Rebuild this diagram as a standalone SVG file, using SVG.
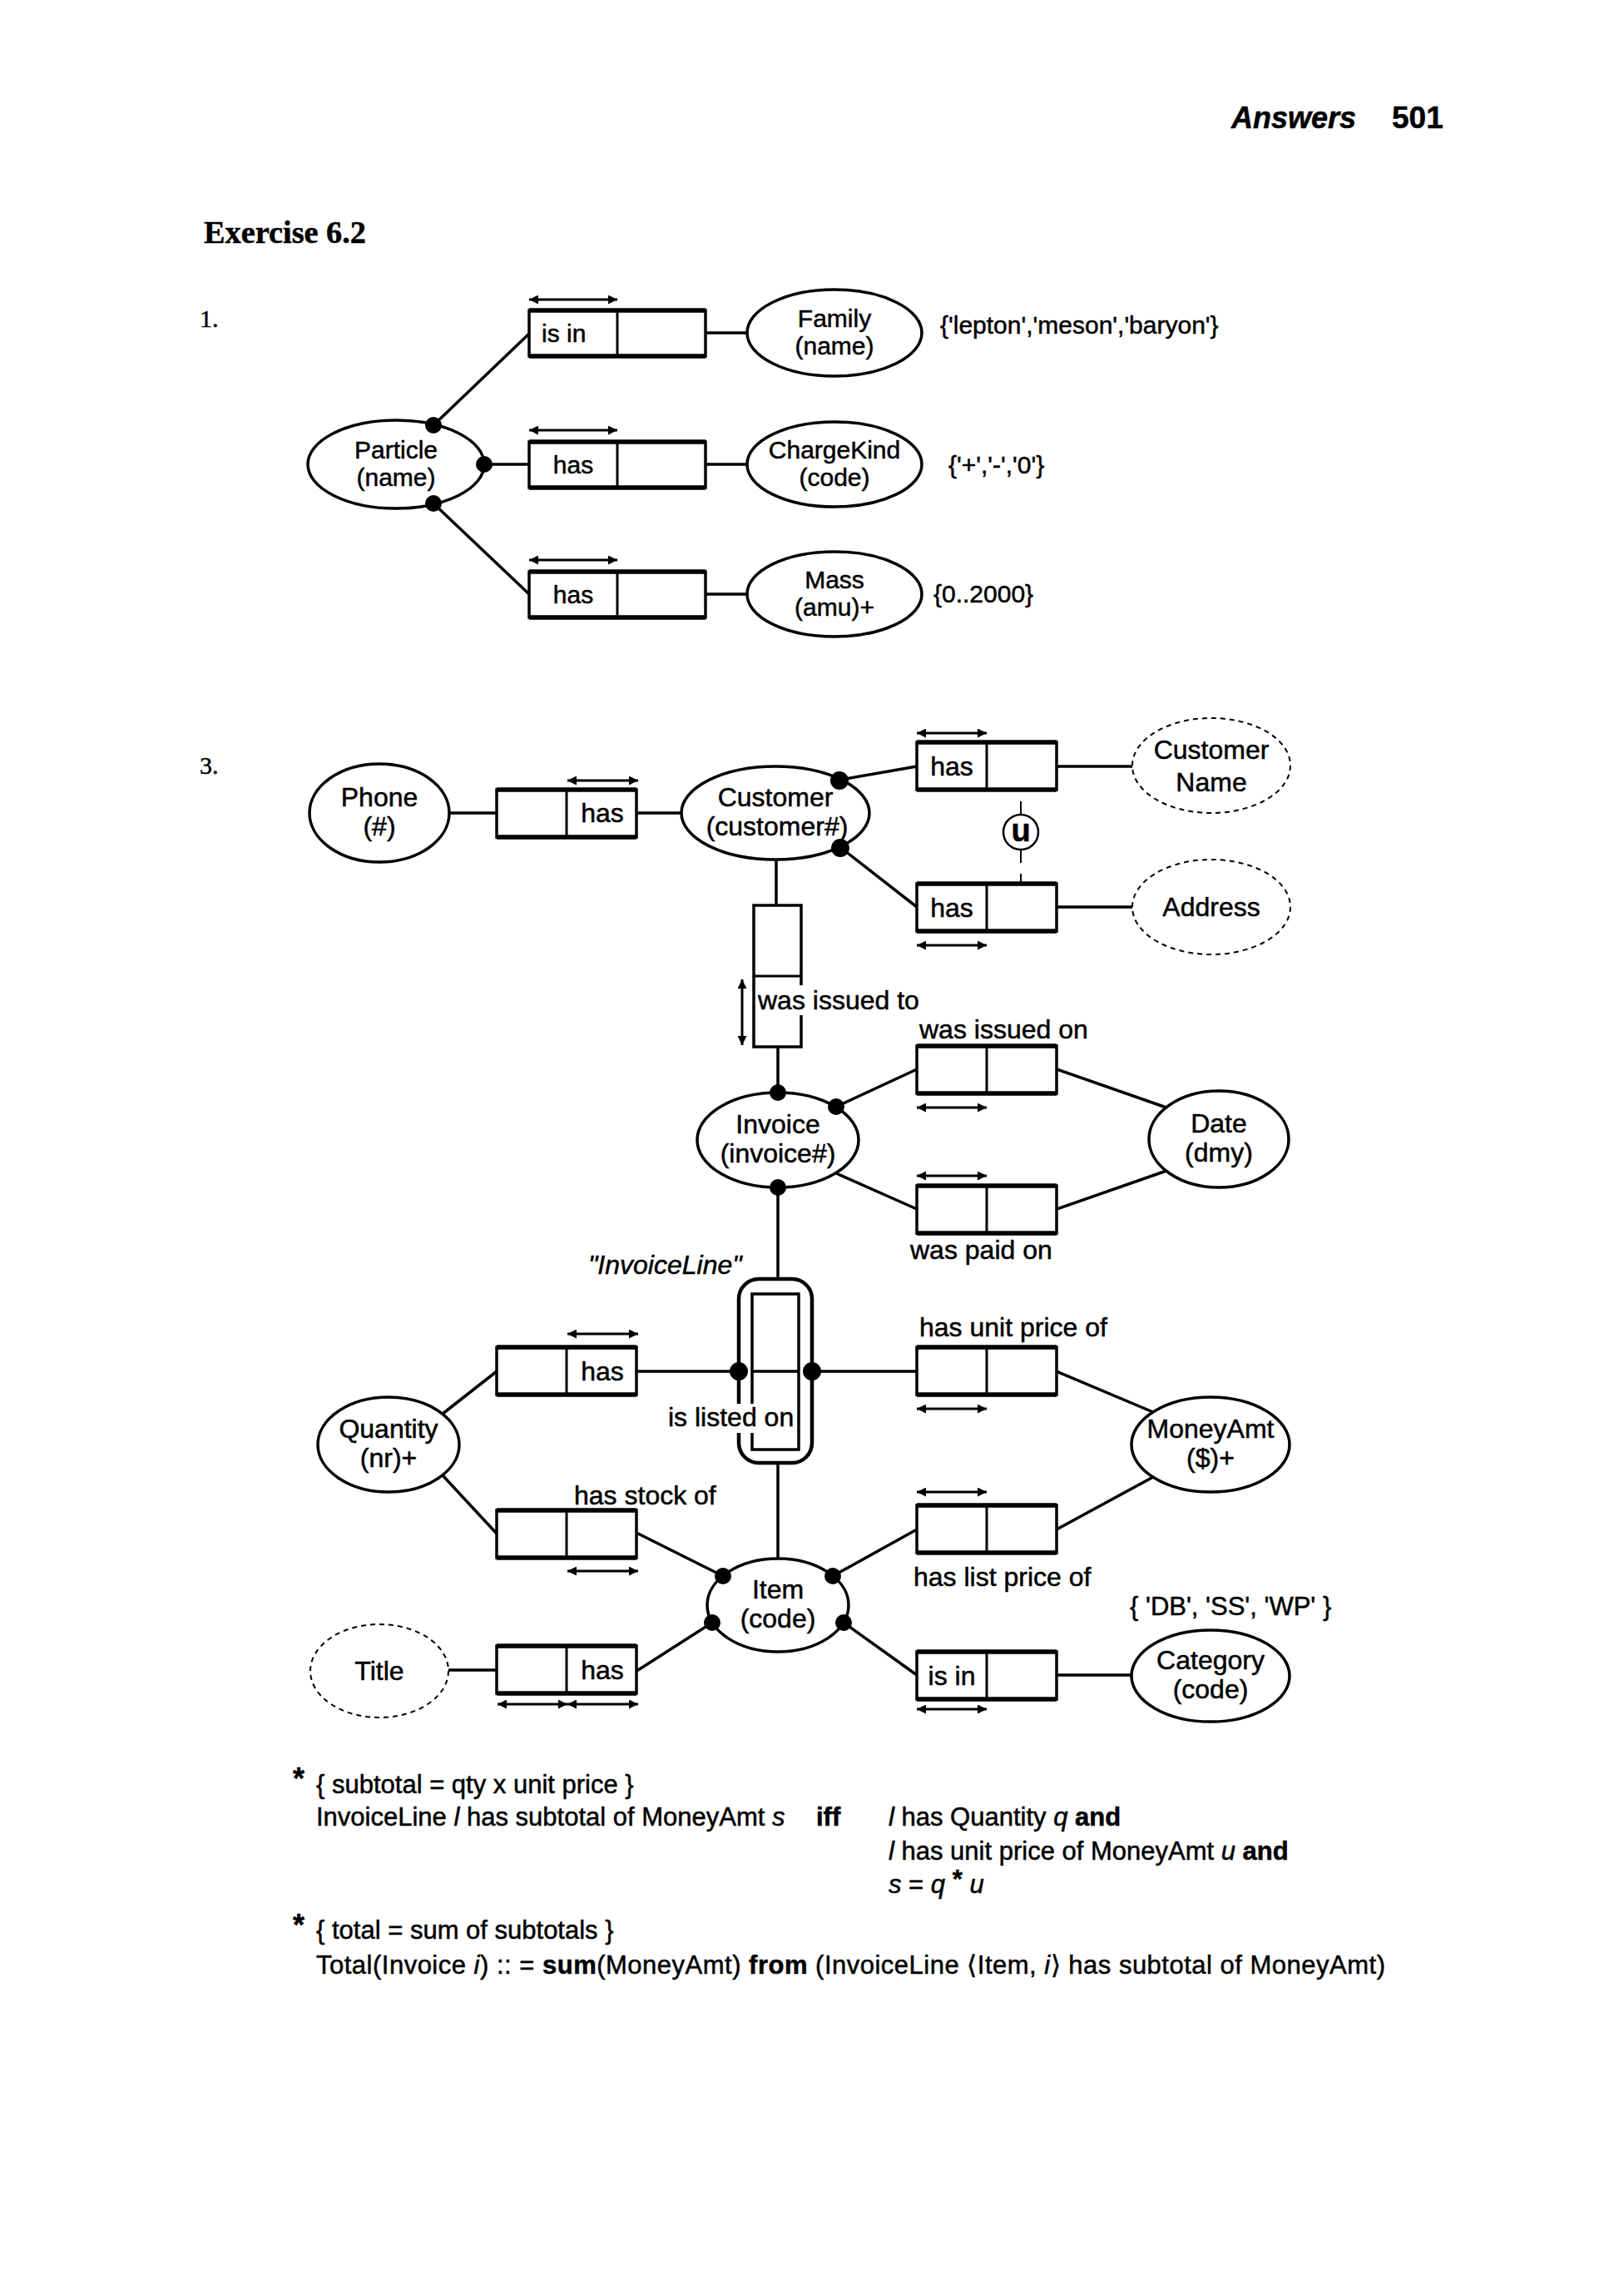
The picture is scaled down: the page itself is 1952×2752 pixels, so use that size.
<svg xmlns="http://www.w3.org/2000/svg" xmlns:xlink="http://www.w3.org/1999/xlink" width="1952" height="2752" viewBox="0 0 1952 2752">
  <style>
    text { font-family: "Liberation Sans", Arial, sans-serif; fill: #000; stroke: #000; stroke-width: 0.5; }
    .ln { stroke: #000; stroke-width: 3.5; fill: none; stroke-linecap: round; }
    .uc { stroke: #000; stroke-width: 2; fill: none; }
    .ent { fill: #fff; stroke: #000; stroke-width: 3.5; }
    .val { fill: #fff; stroke: #000; stroke-width: 2; stroke-dasharray: 6 5; }
    .cell { fill: #fff; stroke: #000; stroke-width: 3.5; }
    .edge { stroke: #000; stroke-width: 5.5; fill: none; }
    .dot { fill: #000; }
    .arr { stroke: #000; stroke-width: 3; fill: none; marker-start: url(#ah); marker-end: url(#ah); }
    .lb { font-size: 32px; text-anchor: middle; }
    .lb1 { font-size: 30px; text-anchor: middle; }
    .rl { font-size: 32px; }
    .rl1 { font-size: 30px; }
    .ct { font-size: 31px; }
    .it { font-style: italic; }
    .b { font-weight: bold; }
    .star { font-size: 36px; font-weight: bold; }
  </style>
  <defs>
    <marker id="ah" viewBox="0 0 10 10" refX="10" refY="5" markerWidth="12" markerHeight="11" markerUnits="userSpaceOnUse" orient="auto-start-reverse">
      <path d="M0,0 L10,5 L0,10 z" fill="#000"/>
    </marker>
    <!-- binary fact type box, part 1 size -->
    <g id="bx1">
      <rect class="cell" x="0" y="0" width="212" height="55"/>
      <line class="uc" x1="106" y1="0" x2="106" y2="55" style="stroke-width:3"/>
      <path class="edge" d="M0,0 H212 M0,55 H212"/>
    </g>
    <!-- binary fact type box, part 3 size -->
    <g id="bx">
      <rect class="cell" x="0" y="0" width="168" height="57"/>
      <line class="uc" x1="84" y1="0" x2="84" y2="57" style="stroke-width:3"/>
      <path class="edge" d="M0,0 H168 M0,57 H168"/>
    </g>
  </defs>

  <rect width="1952" height="2752" fill="#fff"/>

  <!-- page header -->
  <g id="header">
    <text x="1480" y="154" style="font-size:36px;font-weight:bold;font-style:italic">Answers</text>
    <text x="1673" y="154" style="font-size:37px;font-weight:bold">501</text>
    <text x="245" y="292" textLength="195" lengthAdjust="spacingAndGlyphs" style="font-family:'Liberation Serif','Times New Roman',serif;font-size:38px;font-weight:bold">Exercise 6.2</text>
    <text x="240" y="393" style="font-family:'Liberation Serif','Times New Roman',serif;font-size:30px">1.</text>
    <text x="240" y="930" style="font-family:'Liberation Serif','Times New Roman',serif;font-size:30px">3.</text>
  </g>

  <!-- ===== connectors ===== -->
  <g id="connectors">
    <!-- part 1 -->
    <line class="ln" x1="521" y1="511" x2="636" y2="401"/>
    <line class="ln" x1="582" y1="558" x2="636" y2="558"/>
    <line class="ln" x1="521" y1="605" x2="636" y2="714"/>
    <line class="ln" x1="848" y1="400" x2="900" y2="400"/>
    <line class="ln" x1="848" y1="558" x2="900" y2="558"/>
    <line class="ln" x1="848" y1="714" x2="900" y2="714"/>
    <!-- part 3 -->
    <line class="ln" x1="540" y1="977" x2="597" y2="977"/>
    <line class="ln" x1="765" y1="977" x2="821" y2="977"/>
    <line class="ln" x1="1010" y1="937" x2="1102" y2="921"/>
    <line class="ln" x1="1270" y1="921" x2="1362" y2="921"/>
    <line class="ln" x1="1011" y1="1019" x2="1102" y2="1090"/>
    <line class="ln" x1="1270" y1="1090" x2="1362" y2="1090"/>
    <line class="ln" x1="933" y1="1033" x2="933" y2="1088"/>
    <line class="ln" x1="935" y1="1258" x2="935" y2="1313"/>
    <line class="ln" x1="1005" y1="1330" x2="1102" y2="1285"/>
    <line class="ln" x1="1270" y1="1285" x2="1402" y2="1331"/>
    <line class="ln" x1="1005" y1="1410" x2="1102" y2="1453"/>
    <line class="ln" x1="1270" y1="1453" x2="1402" y2="1407"/>
    <line class="ln" x1="935" y1="1427" x2="935" y2="1537"/>
    <line class="ln" x1="767" y1="1648" x2="888" y2="1648"/>
    <line class="ln" x1="976" y1="1648" x2="1102" y2="1648"/>
    <line class="ln" x1="597" y1="1648" x2="532" y2="1699"/>
    <line class="ln" x1="1270" y1="1648" x2="1386" y2="1697"/>
    <line class="ln" x1="532" y1="1773" x2="597" y2="1843"/>
    <line class="ln" x1="767" y1="1843" x2="869" y2="1894"/>
    <line class="ln" x1="935" y1="1758" x2="935" y2="1873"/>
    <line class="ln" x1="1001" y1="1894" x2="1102" y2="1838"/>
    <line class="ln" x1="1270" y1="1838" x2="1386" y2="1775"/>
    <line class="ln" x1="538" y1="2007" x2="597" y2="2007"/>
    <line class="ln" x1="767" y1="2007" x2="856" y2="1950"/>
    <line class="ln" x1="1014" y1="1950" x2="1102" y2="2013"/>
    <line class="ln" x1="1270" y1="2013" x2="1361" y2="2013"/>
    <!-- uniqueness constraint links -->
    <line class="uc" x1="1227" y1="963" x2="1227" y2="979"/>
    <line class="uc" x1="1227" y1="1021" x2="1227" y2="1037"/>
    <line class="uc" x1="1227" y1="1050" x2="1227" y2="1062"/>
  </g>

  <!-- ===== part 1 nodes ===== -->
  <g id="particle">
    <ellipse class="ent" cx="476" cy="558" rx="106" ry="53"/>
    <text class="lb1" x="476" y="551">Particle</text>
    <text class="lb1" x="476" y="584">(name)</text>
  </g>
  <g id="family">
    <ellipse class="ent" cx="1003" cy="400" rx="105" ry="52"/>
    <text class="lb1" x="1003" y="393">Family</text>
    <text class="lb1" x="1003" y="426">(name)</text>
    <text class="rl1" x="1130" y="401">{'lepton','meson','baryon'}</text>
  </g>
  <g id="chargekind">
    <ellipse class="ent" cx="1003" cy="558" rx="105" ry="51"/>
    <text class="lb1" x="1003" y="551">ChargeKind</text>
    <text class="lb1" x="1003" y="584">(code)</text>
    <text class="rl1" x="1140" y="569">{'+','-','0'}</text>
  </g>
  <g id="mass">
    <ellipse class="ent" cx="1003" cy="714" rx="105" ry="51"/>
    <text class="lb1" x="1003" y="707">Mass</text>
    <text class="lb1" x="1003" y="740">(amu)+</text>
    <text class="rl1" x="1122" y="724">{0..2000}</text>
  </g>
  <g id="ft-is-in-family">
    <use xlink:href="#bx1" x="636" y="373"/>
    <text class="rl1" x="651" y="411">is in</text>
    <line class="arr" x1="636" y1="360" x2="742" y2="360"/>
  </g>
  <g id="ft-has-charge">
    <use xlink:href="#bx1" x="636" y="531"/>
    <text class="lb1" x="689" y="569">has</text>
    <line class="arr" x1="636" y1="517" x2="742" y2="517"/>
  </g>
  <g id="ft-has-mass">
    <use xlink:href="#bx1" x="636" y="687"/>
    <text class="lb1" x="689" y="725">has</text>
    <line class="arr" x1="636" y1="673" x2="742" y2="673"/>
  </g>

  <!-- ===== part 3 nodes ===== -->
  <g id="phone">
    <ellipse class="ent" cx="456" cy="977" rx="84" ry="59"/>
    <text class="lb" x="456" y="969">Phone</text>
    <text class="lb" x="456" y="1004">(#)</text>
  </g>
  <g id="customer">
    <ellipse class="ent" cx="932" cy="977" rx="113" ry="56"/>
    <text class="lb" x="932" y="969">Customer</text>
    <text class="lb" x="934" y="1004">(customer#)</text>
  </g>
  <g id="customer-name">
    <ellipse class="val" cx="1456" cy="920" rx="95" ry="57"/>
    <text class="lb" x="1456" y="912">Customer</text>
    <text class="lb" x="1456" y="951">Name</text>
  </g>
  <g id="address">
    <ellipse class="val" cx="1456" cy="1090" rx="95" ry="57"/>
    <text class="lb" x="1456" y="1101">Address</text>
  </g>
  <g id="invoice">
    <ellipse class="ent" cx="935" cy="1370" rx="97" ry="57"/>
    <text class="lb" x="935" y="1362">Invoice</text>
    <text class="lb" x="935" y="1397">(invoice#)</text>
  </g>
  <g id="date">
    <ellipse class="ent" cx="1465" cy="1369" rx="84" ry="58"/>
    <text class="lb" x="1465" y="1361">Date</text>
    <text class="lb" x="1465" y="1396">(dmy)</text>
  </g>
  <g id="quantity">
    <ellipse class="ent" cx="467" cy="1736" rx="85" ry="57"/>
    <text class="lb" x="467" y="1728">Quantity</text>
    <text class="lb" x="467" y="1763">(nr)+</text>
  </g>
  <g id="moneyamt">
    <ellipse class="ent" cx="1455" cy="1736" rx="95" ry="57"/>
    <text class="lb" x="1455" y="1728">MoneyAmt</text>
    <text class="lb" x="1455" y="1763">($)+</text>
  </g>
  <g id="item">
    <ellipse class="ent" cx="935" cy="1929" rx="85" ry="56"/>
    <text class="lb" x="935" y="1921">Item</text>
    <text class="lb" x="935" y="1956">(code)</text>
  </g>
  <g id="title">
    <ellipse class="val" cx="456" cy="2008" rx="83" ry="56"/>
    <text class="lb" x="456" y="2019">Title</text>
  </g>
  <g id="category">
    <ellipse class="ent" cx="1455" cy="2014" rx="95" ry="55"/>
    <text class="lb" x="1455" y="2006">Category</text>
    <text class="lb" x="1455" y="2041">(code)</text>
    <text class="ct" x="1358" y="1941">{ 'DB', 'SS', 'WP' }</text>
  </g>

  <!-- fact types -->
  <g id="ft-phone">
    <use xlink:href="#bx" x="597" y="949"/>
    <text class="lb" x="724" y="988">has</text>
    <line class="arr" x1="682" y1="938" x2="767" y2="938"/>
  </g>
  <g id="ft-custname">
    <use xlink:href="#bx" x="1102" y="892"/>
    <text class="lb" x="1144" y="932">has</text>
    <line class="arr" x1="1102" y1="881" x2="1186" y2="881"/>
  </g>
  <g id="ft-address">
    <use xlink:href="#bx" x="1102" y="1062"/>
    <text class="lb" x="1144" y="1102">has</text>
    <line class="arr" x1="1102" y1="1136" x2="1186" y2="1136"/>
  </g>
  <g id="uniqueness">
    <circle cx="1227" cy="1000" r="21" fill="#fff" stroke="#000" stroke-width="2.5"/>
    <text x="1227" y="1011" style="font-size:38px;font-weight:bold;text-anchor:middle">u</text>
  </g>
  <g id="ft-issued-to">
    <rect class="cell" x="906" y="1088" width="57" height="170"/>
    <line class="uc" x1="906" y1="1173" x2="963" y2="1173" style="stroke-width:3"/>
    <rect x="958" y="1184" width="12" height="36" fill="#fff"/>
    <text class="rl" x="911" y="1213">was issued to</text>
    <line class="arr" x1="892" y1="1177" x2="892" y2="1256"/>
  </g>
  <g id="ft-issued-on">
    <use xlink:href="#bx" x="1102" y="1257"/>
    <text class="rl" x="1105" y="1248">was issued on</text>
    <line class="arr" x1="1102" y1="1331" x2="1186" y2="1331"/>
  </g>
  <g id="ft-paid-on">
    <use xlink:href="#bx" x="1102" y="1425"/>
    <text class="rl" x="1094" y="1513">was paid on</text>
    <line class="arr" x1="1102" y1="1413" x2="1186" y2="1413"/>
  </g>
  <g id="invoiceline">
    <rect x="888" y="1537" width="88" height="221" rx="24" fill="#fff" stroke="#000" stroke-width="4.5"/>
    <rect class="cell" x="904" y="1555" width="56" height="187"/>
    <line class="uc" x1="904" y1="1648" x2="960" y2="1648" style="stroke-width:3.5"/>
    <text class="rl it" x="707" y="1531">"InvoiceLine"</text>
    <rect x="882" y="1687" width="26" height="35" fill="#fff"/>
    <text class="rl" x="803" y="1714">is listed on</text>
  </g>
  <g id="ft-qty">
    <use xlink:href="#bx" x="597" y="1619"/>
    <text class="lb" x="724" y="1659">has</text>
    <line class="arr" x1="682" y1="1603" x2="767" y2="1603"/>
  </g>
  <g id="ft-unit-price">
    <use xlink:href="#bx" x="1102" y="1619"/>
    <text class="rl" x="1105" y="1606">has unit price of</text>
    <line class="arr" x1="1102" y1="1693" x2="1186" y2="1693"/>
  </g>
  <g id="ft-stock">
    <use xlink:href="#bx" x="597" y="1815"/>
    <text class="rl" x="690" y="1808">has stock of</text>
    <line class="arr" x1="682" y1="1888" x2="767" y2="1888"/>
  </g>
  <g id="ft-list-price">
    <use xlink:href="#bx" x="1102" y="1809"/>
    <text class="rl" x="1098" y="1906">has list price of</text>
    <line class="arr" x1="1102" y1="1793" x2="1186" y2="1793"/>
  </g>
  <g id="ft-title">
    <use xlink:href="#bx" x="597" y="1978"/>
    <text class="lb" x="724" y="2018">has</text>
    <line class="arr" x1="598" y1="2048" x2="682" y2="2048"/>
    <line class="arr" x1="682" y1="2048" x2="767" y2="2048"/>
  </g>
  <g id="ft-category">
    <use xlink:href="#bx" x="1102" y="1985"/>
    <text class="lb" x="1144" y="2025">is in</text>
    <line class="arr" x1="1102" y1="2054" x2="1186" y2="2054"/>
  </g>

  <!-- mandatory role dots -->
  <g id="dots">
    <circle class="dot" cx="521" cy="511" r="10"/>
    <circle class="dot" cx="582" cy="558" r="10"/>
    <circle class="dot" cx="521" cy="605" r="10"/>
    <circle class="dot" cx="1009" cy="938" r="11"/>
    <circle class="dot" cx="1010" cy="1019" r="11"/>
    <circle class="dot" cx="935" cy="1313" r="10"/>
    <circle class="dot" cx="1005" cy="1330" r="10"/>
    <circle class="dot" cx="935" cy="1427" r="10"/>
    <circle class="dot" cx="888" cy="1648" r="11"/>
    <circle class="dot" cx="976" cy="1648" r="11"/>
    <circle class="dot" cx="869" cy="1894" r="10"/>
    <circle class="dot" cx="1001" cy="1894" r="10"/>
    <circle class="dot" cx="856" cy="1950" r="10"/>
    <circle class="dot" cx="1014" cy="1950" r="10"/>
  </g>

  <!-- derivation rules -->
  <g id="rules" class="ct">
    <text class="star" x="352" y="2150">*</text>
    <text class="ct" x="380" y="2155">{ subtotal = qty x unit price }</text>
    <text class="ct" x="380" y="2194">InvoiceLine <tspan class="it">l</tspan> has subtotal of MoneyAmt <tspan class="it">s</tspan></text>
    <text class="ct b" x="981" y="2194">iff</text>
    <text class="ct" x="1068" y="2194"><tspan class="it">l</tspan> has Quantity <tspan class="it">q</tspan> <tspan class="b">and</tspan></text>
    <text class="ct" x="1068" y="2235"><tspan class="it">l</tspan> has unit price of MoneyAmt <tspan class="it">u</tspan> <tspan class="b">and</tspan></text>
    <text class="ct" x="1068" y="2275"><tspan class="it">s</tspan> = <tspan class="it">q</tspan> <tspan class="b" dy="-6">*</tspan> <tspan class="it" dy="6">u</tspan></text>
    <text class="star" x="352" y="2326">*</text>
    <text class="ct" x="380" y="2330">{ total = sum of subtotals }</text>
    <text class="ct" x="380" y="2372" textLength="1285" lengthAdjust="spacing">Total(Invoice <tspan class="it">i</tspan>) :: = <tspan class="b">sum</tspan>(MoneyAmt) <tspan class="b">from</tspan> (InvoiceLine ⟨Item, <tspan class="it">i</tspan>⟩ has subtotal of MoneyAmt)</text>
  </g>
</svg>
